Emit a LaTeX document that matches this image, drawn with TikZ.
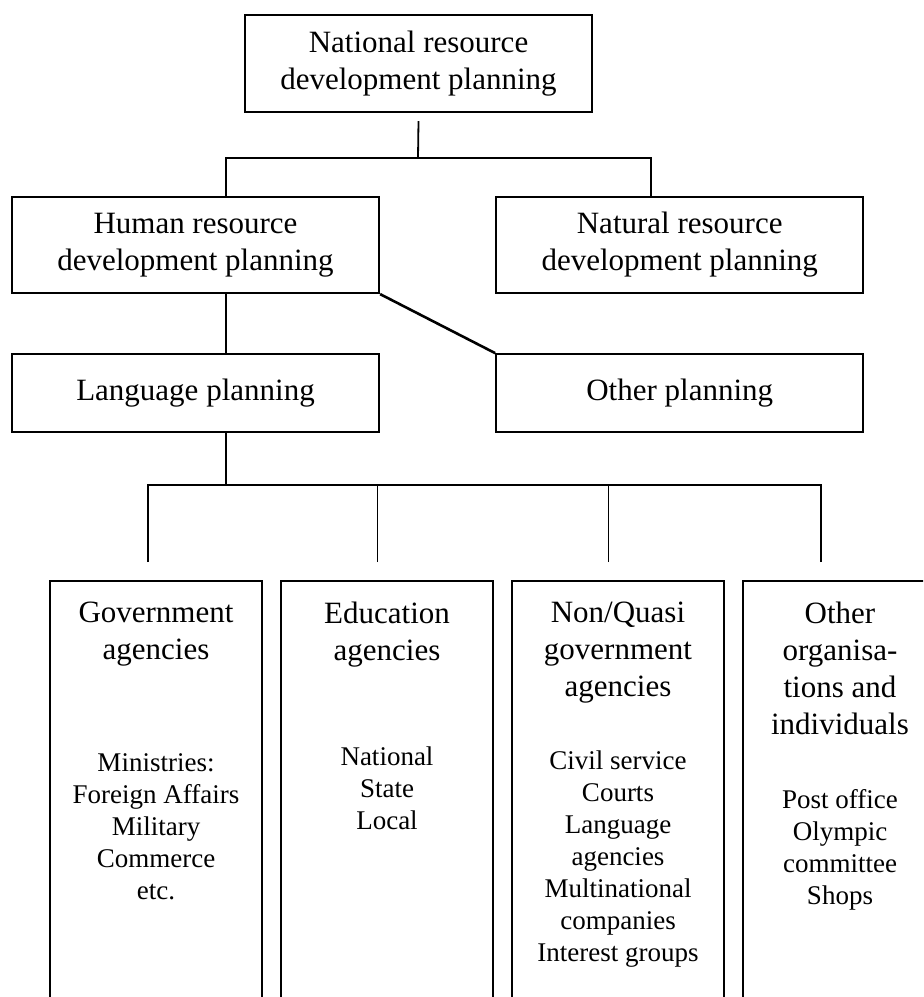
\documentclass[tikz,border=0pt]{standalone}
\usepackage{fontspec}
\setmainfont{Liberation Serif}
\usetikzlibrary{positioning}
\newcommand\titlesize{\fontsize{15.5}{18.5}\selectfont}
\newcommand\listsize{\fontsize{13.5}{16}\selectfont}
\newcommand\agencytext[4][100pt]{\parbox[t][230pt][t]{#1}{\centering\titlesize #2\par\vspace{#3}\listsize #4\par}}
\tikzset{
    planbox/.style = {draw, line width=1.1pt, align=center, minimum width=183.5pt,
                      minimum height=48pt, inner sep=2pt, font=\titlesize},
    agencybox/.style = {draw, line width=1.1pt, anchor=north, inner xsep=3pt, inner ysep=10.5pt},
    treeline/.style = {line width=0.9pt},
    slantline/.style = {line width=1.3pt},
}

\begin{document}
\begin{tikzpicture}[x=0.5pt, y=-0.5pt]
    \useasboundingbox (0,0) rectangle (923,997);
    \clip (0,0) rectangle (923,997);

    \node (national) [planbox, minimum width=173.5pt, minimum height=48.5pt] at (418.5,63.5)
        {National resource\\development planning};
    \node (human) [planbox] at (195.5,245) {Human resource\\development planning};
    \node (natural) [planbox, right=57.5pt of human] {Natural resource\\development planning};
    \node (language) [planbox, minimum height=39pt, below=29.5pt of human] {Language planning};
    \node (other) [planbox, minimum height=39pt, below=29.5pt of natural] {Other planning};

    \node (gov) [agencybox] at (156,580)
        {\agencytext{Government\\agencies}{40pt}{Ministries:\\Foreign Affairs\\Military\\Commerce\\etc.}};
    \node (edu) [agencybox, right=8.4pt of gov]
        {\agencytext{Education\\agencies}{36.5pt}{National\\State\\Local}};
    \node (quasi) [agencybox, right=8.4pt of edu]
        {\agencytext{Non/Quasi\\government\\agencies}{20.5pt}{Civil service\\Courts\\Language\\agencies\\Multinational\\companies\\Interest groups}};
    \node (others) [agencybox, right=8.4pt of quasi]
        {\agencytext[91pt]{Other\\organisa-\\tions and\\individuals}{21pt}{Post office\\Olympic\\committee\\Shops}};

    \coordinate (join) at (418,158);
    \coordinate (bus) at (226,485);

    \draw[treeline] ([yshift=-4pt]national.south) -- (join);
    \draw[treeline] ([xshift=15.25pt]human.north) |- (join) -| ([xshift=-14.25pt]natural.north);
    \draw[treeline] ([xshift=15.25pt]human.south) -- ([xshift=15.25pt]language.north);
    \draw[slantline] (human.south east) -- (other.north west);
    \draw[treeline] ([xshift=15.25pt]language.south) -- (bus);
    \foreach \col/\dx in {gov/-4pt, edu/-4.75pt, quasi/-4.75pt, others/-9.5pt}
        \draw[treeline] ([xshift=\dx, yshift=9pt]\col.north) |- (bus);
\end{tikzpicture}
\end{document}
